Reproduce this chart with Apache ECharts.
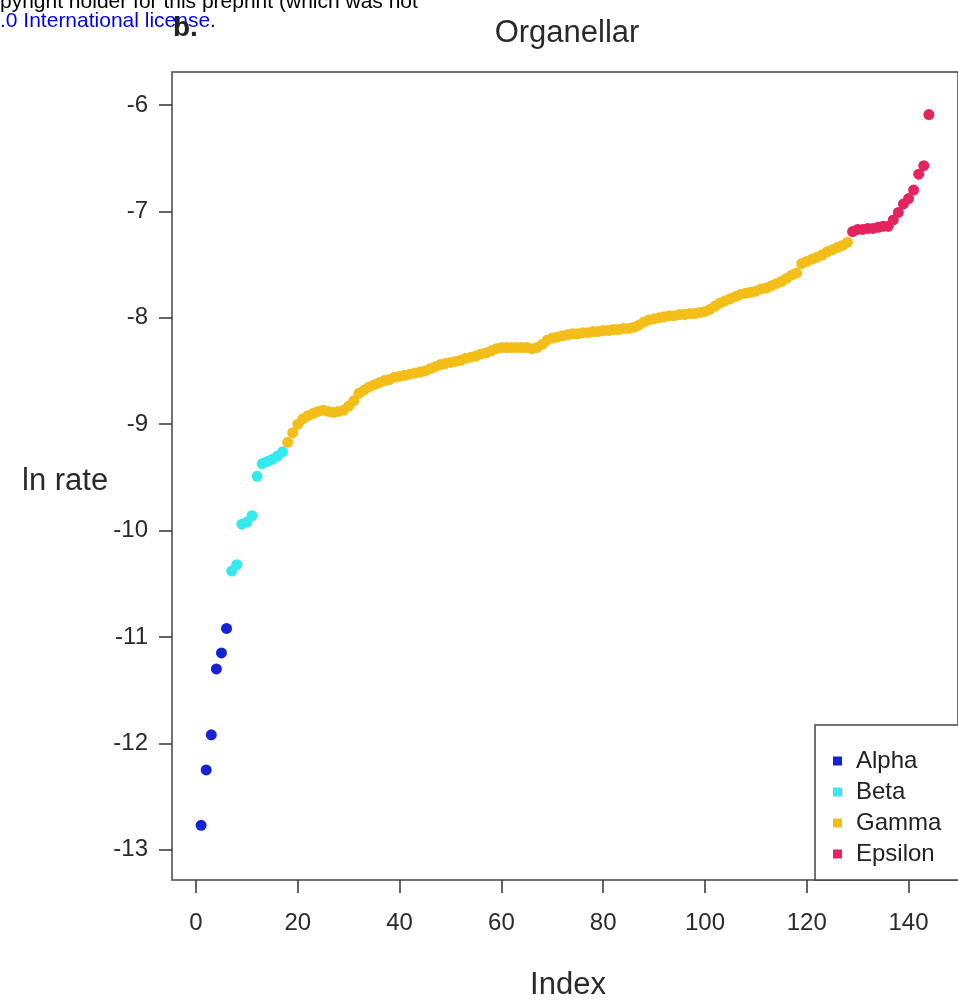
<!DOCTYPE html>
<html>
<head>
<meta charset="utf-8">
<script src="https://cdn.jsdelivr.net/npm/echarts@6/dist/echarts.min.js"></script>
<style>
html,body{margin:0;padding:0;background:#fff;}
#main{width:958px;height:1001px;}
</style>
</head>
<body>
<div id="main"></div>
<script>
// ---- data ----
const seriesNames = ["Alpha", "Beta", "Gamma", "Epsilon"];
const alphaStart = 1;
const alphaValues = [-12.77, -12.25, -11.92, -11.30, -11.15, -10.92];
const betaStart = 7;
const betaValues = [-10.38, -10.32, -9.94, -9.92, -9.86, -9.49, -9.37, -9.35, -9.33, -9.30, -9.26];
const gammaStart = 18;
const gammaValues = [
  -9.17, -9.08, -9.00, -8.95, -8.92, -8.90, -8.88, -8.87, -8.88, -8.89,
  -8.88, -8.87, -8.83, -8.78, -8.71, -8.68, -8.65, -8.63, -8.61, -8.59,
  -8.58, -8.56, -8.55, -8.54, -8.53, -8.52, -8.51, -8.50, -8.48, -8.46,
  -8.44, -8.43, -8.42, -8.41, -8.40, -8.38, -8.37, -8.36, -8.34, -8.33,
  -8.31, -8.29, -8.28, -8.28, -8.28, -8.28, -8.28, -8.28, -8.29, -8.28,
  -8.25, -8.21, -8.19, -8.18, -8.17, -8.16, -8.15, -8.15, -8.14, -8.14,
  -8.13, -8.13, -8.12, -8.12, -8.11, -8.11, -8.10, -8.10, -8.09, -8.07,
  -8.04, -8.02, -8.01, -8.00, -7.99, -7.98, -7.98, -7.97, -7.97, -7.96,
  -7.96, -7.95, -7.94, -7.92, -7.89, -7.86, -7.84, -7.82, -7.80, -7.78,
  -7.77, -7.76, -7.75, -7.73, -7.72, -7.70, -7.68, -7.66, -7.63, -7.60,
  -7.58, -7.49, -7.47, -7.45, -7.43, -7.41, -7.38, -7.36, -7.34, -7.32,
  -7.29
];
const epsilonStart = 129;
const epsilonValues = [-7.19, -7.17, -7.17, -7.16, -7.16, -7.15, -7.14, -7.14, -7.08, -7.01, -6.93, -6.88, -6.80, -6.65, -6.57, -6.09];
const xTicks = [0, 20, 40, 60, 80, 100, 120, 140];
const yTicks = [-13, -12, -11, -10, -9, -8, -7, -6];
const colors = ["#1424d4", "#33eaee", "#f4be18", "#e4245f"];

function toPoints(start, vals) { return vals.map((v, i) => [start + i, v]); }
const groups = [
  toPoints(alphaStart, alphaValues),
  toPoints(betaStart, betaValues),
  toPoints(gammaStart, gammaValues),
  toPoints(epsilonStart, epsilonValues)
];

const FONT = "Liberation Sans, Arial, Helvetica, sans-serif";
const chart = echarts.init(document.getElementById("main"), null, {renderer: "canvas"});
chart.setOption({
  backgroundColor: "#fff",
  animation: false,
  grid: {left: 172, right: 0, top: 72, bottom: 121, show: true, borderColor: "#444", borderWidth: 1.5, backgroundColor: "transparent"},
  xAxis: {
    type: "value", min: -4.72, max: 149.72,
    splitLine: {show: false},
    axisLine: {show: false, onZero: false},
    axisTick: {show: true, inside: false, length: 13, lineStyle: {color: "#333", width: 1.5}, customValues: xTicks},
    axisLabel: {customValues: xTicks, margin: 31, fontSize: 24, color: "#2a2a2a", fontFamily: FONT}
  },
  yAxis: {
    type: "value", min: -13.284, max: -5.69,
    splitLine: {show: false},
    axisLine: {show: false, onZero: false},
    axisTick: {show: true, inside: false, length: 13, lineStyle: {color: "#333", width: 1.5}, customValues: yTicks},
    axisLabel: {customValues: yTicks, margin: 24, fontSize: 24, color: "#2a2a2a", fontFamily: FONT}
  },
  legend: {
    orient: "vertical", left: 828, top: 744, itemGap: 7, itemWidth: 9, itemHeight: 9, icon: "rect",
    textStyle: {fontSize: 24, lineHeight: 24, color: "#222", fontFamily: FONT, padding: [0, 0, 0, 9]},
    data: seriesNames
  },
  series: seriesNames.map((name, k) => ({
    name: name, type: "scatter", data: groups[k], symbol: "circle", symbolSize: 11,
    itemStyle: {color: colors[k], opacity: 1}, z: 2
  })),
  graphic: [
    {type: "rect", shape: {x: 815, y: 725, width: 160, height: 155}, style: {fill: "#fff", stroke: "#444", lineWidth: 1.5}, z: 1},
    {type: "text", x: 567, y: 18, style: {text: "Organellar", fontSize: 31, fill: "#2a2a2a", fontFamily: FONT, textAlign: "center"}},
    {type: "text", x: 22, y: 466, style: {text: "ln rate", fontSize: 31, fill: "#2a2a2a", fontFamily: FONT}},
    {type: "text", x: 568, y: 970, style: {text: "Index", fontSize: 31, fill: "#2a2a2a", fontFamily: FONT, textAlign: "center"}},
    {type: "text", x: 0, y: -8, style: {text: "pyright holder for this preprint (which was not", fontSize: 21, fill: "#000", fontFamily: FONT}},
    {type: "text", x: 0, y: 11, style: {text: ".0 International license", fontSize: 21, fill: "#0000ee", fontFamily: FONT}},
    {type: "text", x: 210, y: 11, style: {text: ".", fontSize: 21, fill: "#000", fontFamily: FONT}},
    {type: "text", x: 173, y: 14, style: {text: "b.", fontSize: 28, fontWeight: "bold", fill: "#222", fontFamily: FONT}}
  ]
});
</script>
</body>
</html>
